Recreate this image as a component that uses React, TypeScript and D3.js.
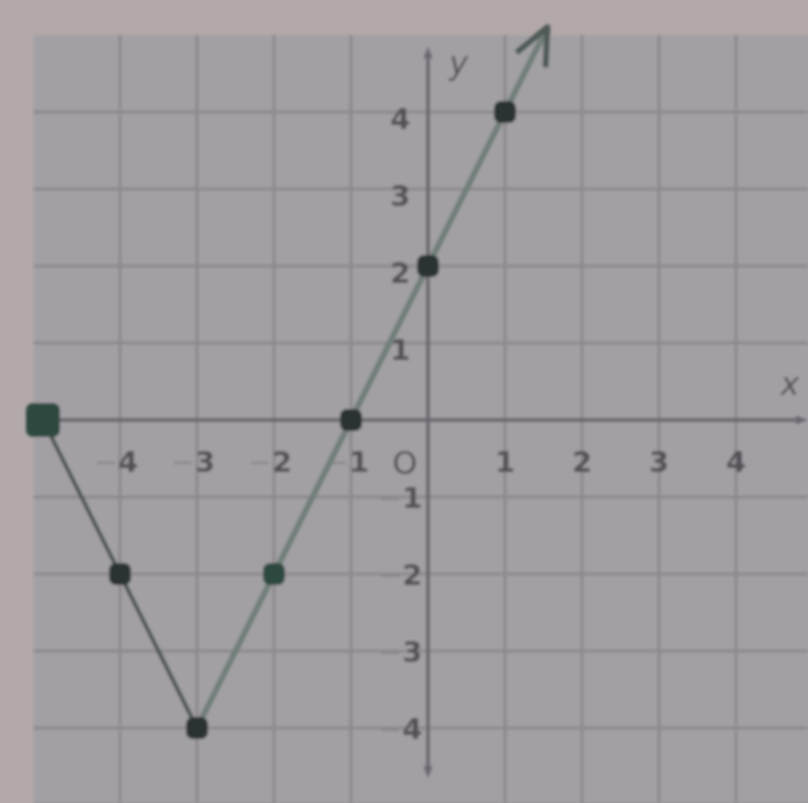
import React, { useEffect, useRef } from "react";
import * as d3 from "d3";

// plotted points (from the graph paper)
const pointX = [-5, -4, -3, -2, -1, 0, 1];
const pointY = [0, -2, -4, -2, 0, 2, 4];
// polyline: vertex pieces, last one ends at the arrow tip
const lineX = [-5, -3, 1.55];
const lineY = [0, -4, 5.1];
const xTicks = [-4, -3, -2, -1, 1, 2, 3, 4];
const yTicks = [4, 3, 2, 1, -1, -2, -3, -4];
const gridValues = [-5, -4, -3, -2, -1, 0, 1, 2, 3, 4, 5];

export default function App() {
  const svgRef = useRef<SVGSVGElement>(null);

  useEffect(() => {
    const width = 808;
    const height = 803;
    const svg = d3.select(svgRef.current);
    svg.selectAll("*").remove();
    svg.attr("width", width).attr("height", height);

    const x = d3.scaleLinear().domain([0, 1]).range([428, 505]);
    const y = d3.scaleLinear().domain([0, 1]).range([420, 343]);

    const defs = svg.append("defs");
    defs
      .append("filter")
      .attr("id", "soft")
      .append("feGaussianBlur")
      .attr("stdDeviation", 1.7);

    // background (the desk / photo edge)
    svg.append("rect").attr("width", width).attr("height", height).attr("fill", "#b2a9a8");

    const g = svg.append("g").attr("filter", "url(#soft)");

    // paper
    g.append("rect")
      .attr("x", x(-5.12))
      .attr("y", y(5.0))
      .attr("width", width)
      .attr("height", height)
      .attr("fill", "#a3a0a5");

    // grid
    g.selectAll("line.vg")
      .data(gridValues.filter((d) => d !== 0 && d > -5))
      .join("line")
      .attr("class", "vg")
      .attr("x1", (d) => x(d))
      .attr("x2", (d) => x(d))
      .attr("y1", y(5.0))
      .attr("y2", height)
      .attr("stroke", "#8c888c")
      .attr("stroke-width", 3);
    g.selectAll("line.hg")
      .data(gridValues.filter((d) => d !== 0 && d < 5))
      .join("line")
      .attr("class", "hg")
      .attr("x1", x(-5.12))
      .attr("x2", width)
      .attr("y1", (d) => y(d))
      .attr("y2", (d) => y(d))
      .attr("stroke", "#8c888c")
      .attr("stroke-width", 3);

    // axes
    const axisColor = "#6a686e";
    g.append("line")
      .attr("x1", x(-5.12))
      .attr("x2", width - 4)
      .attr("y1", y(0))
      .attr("y2", y(0))
      .attr("stroke", axisColor)
      .attr("stroke-width", 4);
    g.append("line")
      .attr("x1", x(0))
      .attr("x2", x(0))
      .attr("y1", y(4.75))
      .attr("y2", y(-4.55))
      .attr("stroke", axisColor)
      .attr("stroke-width", 4);
    // axis arrow heads
    const tri = (px: number, py: number, dir: string) => {
      const s = 8;
      const pts =
        dir === "up"
          ? [[px, py - s], [px - s * 0.6, py + s * 0.5], [px + s * 0.6, py + s * 0.5]]
          : dir === "down"
          ? [[px, py + s], [px - s * 0.6, py - s * 0.5], [px + s * 0.6, py - s * 0.5]]
          : [[px + s, py], [px - s * 0.5, py - s * 0.6], [px - s * 0.5, py + s * 0.6]];
      g.append("polygon").attr("points", pts.map((p) => p.join(",")).join(" ")).attr("fill", axisColor);
    };
    tri(x(0), y(4.75), "up");
    tri(x(0), y(-4.55), "down");
    tri(width - 8, y(0), "right");

    const labelColor = "#524f55";
    const minusColor = "#8a868b";
    const font = "DejaVu Sans, sans-serif";
    const writeTick = (sel: d3.Selection<SVGTextElement, number, any, any>) => {
      sel.each(function (d) {
        const t = d3.select(this);
        if (d < 0) t.append("tspan").attr("fill", minusColor).attr("font-weight", "normal").text("\u2212");
        t.append("tspan").text(String(Math.abs(d)));
      });
    };
    g.selectAll<SVGTextElement, number>("text.xt")
      .data(xTicks)
      .join("text")
      .attr("class", "xt")
      .attr("x", (d) => x(d) - (d < 0 ? 4 : 0))
      .attr("y", y(0) + 52)
      .attr("text-anchor", "middle")
      .attr("font-family", font)
      .attr("font-weight", "bold")
      .attr("font-size", 29)
      .attr("fill", labelColor)
      .call(writeTick);
    g.append("text")
      .attr("x", x(-0.3))
      .attr("y", y(0) + 54)
      .attr("text-anchor", "middle")
      .attr("font-family", font)
      .attr("font-size", 32)
      .attr("fill", labelColor)
      .text("O");
    g.selectAll<SVGTextElement, number>("text.yt")
      .data(yTicks)
      .join("text")
      .attr("class", "yt")
      .attr("x", x(-0.36))
      .attr("y", (d) => y(d) + 11 + (d > 0 ? 6 : 0))
      .attr("text-anchor", "middle")
      .attr("font-family", font)
      .attr("font-weight", "bold")
      .attr("font-size", 29)
      .attr("fill", labelColor)
      .call(writeTick);
    g.append("text")
      .attr("x", x(0.4))
      .attr("y", y(4.5))
      .attr("text-anchor", "middle")
      .attr("font-family", font)
      .attr("font-style", "italic")
      .attr("font-size", 32)
      .attr("fill", labelColor)
      .text("y");
    g.append("text")
      .attr("x", x(4.7))
      .attr("y", y(0.32))
      .attr("text-anchor", "middle")
      .attr("font-family", font)
      .attr("font-style", "italic")
      .attr("font-size", 32)
      .attr("fill", labelColor)
      .text("x");

    // the graph
    const lineData = lineX.map((d, i) => [d, lineY[i]] as [number, number]);
    const line = d3.line<[number, number]>().x((d) => x(d[0])).y((d) => y(d[1]));
    g.append("path")
      .attr("d", line(lineData.slice(0, 2)))
      .attr("fill", "none")
      .attr("stroke", "#4a5351")
      .attr("stroke-width", 4);
    g.append("path")
      .attr("d", line(lineData.slice(1)))
      .attr("fill", "none")
      .attr("stroke", "#717e79")
      .attr("stroke-width", 6);
    // arrow head at the tip
    const tip = lineData[2];
    const prev = lineData[1];
    const ang = Math.atan2(y(tip[1]) - y(prev[1]), x(tip[0]) - x(prev[0]));
    const tx = x(tip[0]);
    const ty = y(tip[1]);
    const len = 40;
    const spread = 0.42;
    g.append("path")
      .attr(
        "d",
        `M${tx - len * Math.cos(ang - spread)},${ty - len * Math.sin(ang - spread)}L${tx},${ty}L${
          tx - len * Math.cos(ang + spread)
        },${ty - len * Math.sin(ang + spread)}`
      )
      .attr("fill", "none")
      .attr("stroke", "#4f5a57")
      .attr("stroke-width", 6)
      .attr("stroke-linejoin", "round");

    // points
    const pts = pointX.map((d, i) => ({ x: d, y: pointY[i] }));
    g.selectAll("rect.pt")
      .data(pts)
      .join("rect")
      .attr("class", "pt")
      .attr("x", (d) => x(d.x) - (d.x === -5 ? 17 : 11))
      .attr("y", (d) => y(d.y) - (d.x === -5 ? 17 : 11))
      .attr("width", (d) => (d.x === -5 ? 34 : 22))
      .attr("height", (d) => (d.x === -5 ? 34 : 22))
      .attr("rx", 7)
      .attr("fill", (d) => (d.x === -5 || d.x === -2 ? "#2f4a40" : "#2c3331"));
  }, []);

  return <svg ref={svgRef} style={{ position: "absolute", left: 0, top: 0 }} />;
}
